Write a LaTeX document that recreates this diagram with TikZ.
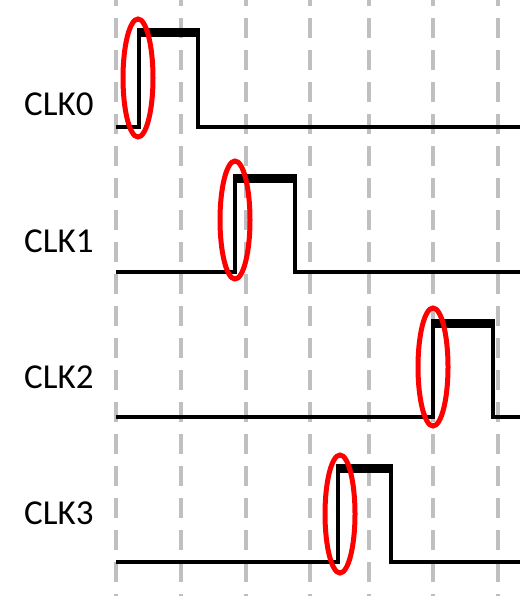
\documentclass[tikz,border=0pt]{standalone}
\usepackage{fontspec}
\setmainfont{Carlito}

\begin{document}
\begin{tikzpicture}[
  x=1pt, y=-1pt,
  gridline/.style={draw=black!25, line width=4, dash pattern=on 20 off 12, dash phase=14},
  wave/.style={draw=black, line width=4, line join=miter},
  pulse/.style={draw=black, line width=9},
  edgering/.style={draw=red, line width=5},
  clkname/.style={anchor=west, inner sep=0, font=\fontsize{35}{38}\selectfont},
]
  \useasboundingbox (0,0) rectangle (520,596);

  % dashed time grid
  \foreach \gx in {116,181,246,310,369,433,498}
    \draw[gridline] (\gx,0) -- (\gx,596);

  % clock names
  \node[clkname] (clk0) at (24,104) {CLK0};
  \node[clkname] (clk1) at (24,241) {CLK1};
  \node[clkname] (clk2) at (24,377) {CLK2};
  \node[clkname] (clk3) at (24,513) {CLK3};

  % waveforms: low level / high level / rise / fall
  \foreach \lo/\hi/\rise/\fall in {127/28/139/198, 272/174/235/295, 417/319/433/493, 562/464/338/391} {
    \draw[wave] (116,\lo) -- (\rise,\lo) -- (\rise,\hi+2) -- (\fall,\hi+2) -- (\fall,\lo) -- (520,\lo);
    \draw[pulse] (\rise,\hi+4.5) -- (\fall,\hi+4.5);
  }

  % rising edges marked in red
  \draw[edgering] (138,78) ellipse (15 and 59);
  \draw[edgering] (235,220) ellipse (15 and 59);
  \draw[edgering] (433,367) ellipse (15 and 59);
  \draw[edgering] (340,514) ellipse (15 and 59);
\end{tikzpicture}
\end{document}
